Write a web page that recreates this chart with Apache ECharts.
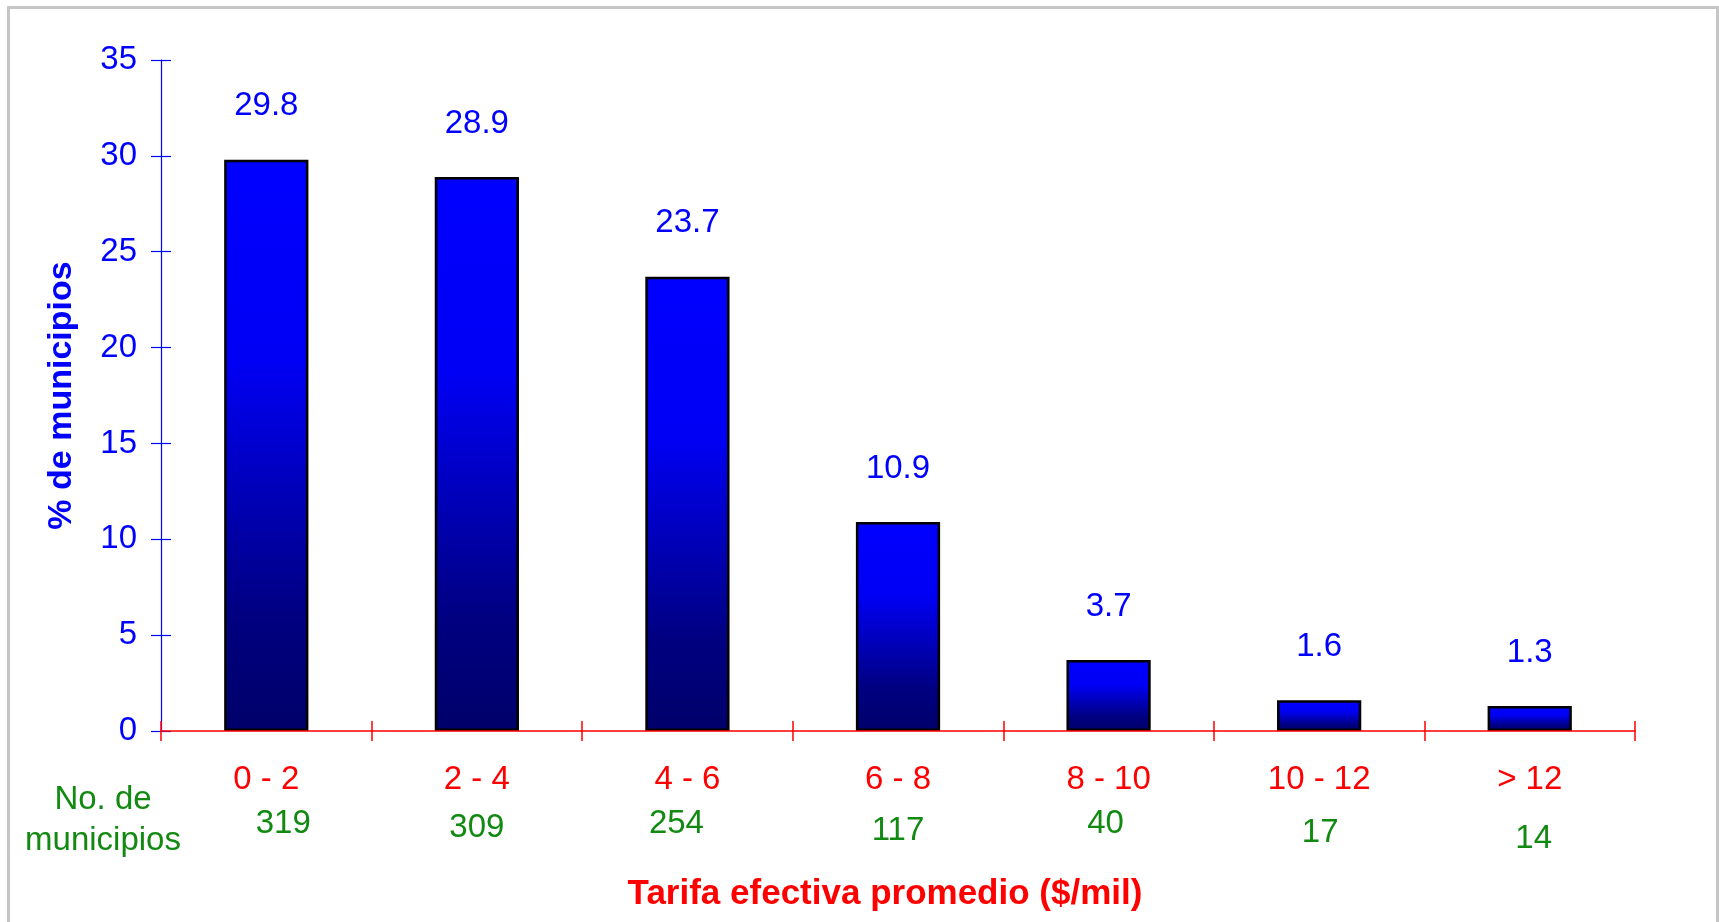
<!DOCTYPE html>
<html><head><meta charset="utf-8">
<script src="https://cdn.jsdelivr.net/npm/echarts@6/dist/echarts.min.js"></script>
<style>html,body{margin:0;padding:0;background:#fff}#c{width:1719px;height:922px}</style>
</head><body><div id="c"></div>
<script>
const categories = ['0 - 2', '2 - 4', '4 - 6', '6 - 8', '8 - 10', '10 - 12', '> 12'];
const percentValues = [29.8, 28.9, 23.7, 10.9, 3.7, 1.6, 1.3];
const municipioCounts = [319, 309, 254, 117, 40, 17, 14];
const yMin = 0, yMax = 35, yInterval = 5;
const yAxisTitle = '% de municipios';
const xAxisTitle = 'Tarifa efectiva promedio ($/mil)';
const countsTitle = 'No. de\nmunicipios';

// layout-only nudges for the count labels (pixels)
const countShift = [[17, -4], [0, 0], [-11, -4], [0, 3], [-3, -4], [1, 5], [4, 11]];

const FONT = '"Liberation Sans", Arial, sans-serif';
const FS = 33;
const chart = echarts.init(document.getElementById('c'), null, {renderer: 'canvas'});

const barGradient = new echarts.graphic.LinearGradient(0, 0, 0, 1, [
  {offset: 0, color: '#0000ff'},
  {offset: 0.35, color: '#0000f5'},
  {offset: 0.8, color: '#000080'},
  {offset: 1, color: '#00006a'}
]);

const option = {
  animation: false,
  backgroundColor: '#ffffff',
  grid: {left: 161, right: 84, top: 60, bottom: 191, containLabel: false},
  xAxis: [
    {
      type: 'category', data: categories, position: 'bottom',
      axisLine: {show: true, lineStyle: {color: '#ff0000', width: 1.5}},
      axisTick: {show: true, inside: false, length: 10, alignWithLabel: false, lineStyle: {color: '#ff0000', width: 1.5}},
      axisLabel: {color: '#ff0000', fontSize: FS, fontFamily: FONT, margin: 32, interval: 0},
      name: xAxisTitle, nameLocation: 'middle', nameGap: 146,
      nameTextStyle: {color: '#ff0000', fontSize: 35, fontWeight: 'bold', fontFamily: FONT, padding: [0, 26, 0, 0]},
      splitLine: {show: false}, z: 5
    },
    {
      type: 'category', data: categories, position: 'bottom',
      axisLine: {show: false},
      axisTick: {show: true, inside: true, length: 10, lineStyle: {color: '#ff0000', width: 1.5}},
      axisLabel: {show: false}, splitLine: {show: false}, z: 5
    }
  ],
  yAxis: [
    {
      type: 'value', min: yMin, max: yMax, interval: yInterval, position: 'left',
      axisLine: {show: true, lineStyle: {color: '#0000ff', width: 1.2}},
      axisTick: {show: true, inside: false, length: 10, lineStyle: {color: '#0000ff', width: 1.2}},
      axisLabel: {color: '#0000ff', fontSize: FS, fontFamily: FONT, margin: 24},
      splitLine: {show: false},
      name: yAxisTitle, nameLocation: 'middle', nameGap: 82, nameRotate: 90,
      nameTextStyle: {color: '#0000ff', fontSize: 34, fontWeight: 'bold', fontFamily: FONT}
    },
    {
      type: 'value', min: yMin, max: yMax, interval: yInterval, position: 'left',
      axisLine: {show: false},
      axisTick: {show: true, inside: true, length: 10, lineStyle: {color: '#0000ff', width: 1.2}},
      axisLabel: {show: false}, splitLine: {show: false}
    }
  ],
  series: [{
    type: 'bar', data: percentValues, xAxisIndex: 0, yAxisIndex: 0,
    barWidth: '40%',
    itemStyle: {color: barGradient, borderColor: '#000000', borderWidth: 2.5},
    label: {show: true, position: 'top', distance: 37, color: '#0000ff', fontSize: FS, fontFamily: FONT,
      formatter: p => p.value.toFixed(1)},
    z: 2
  }]
};
chart.setOption(option);

const graphics = [
  {type: 'rect', shape: {x: 8.5, y: 7.5, width: 1709, height: 1000},
   style: {fill: null, stroke: '#c6c6c6', lineWidth: 3}, silent: true, z: 0},
  {type: 'text', x: 103, y: 820, style: {text: countsTitle, fill: '#128a12', font: FS + 'px ' + FONT,
   textAlign: 'center', textVerticalAlign: 'middle', lineHeight: 41}}
];
municipioCounts.forEach((n, i) => {
  const px = chart.convertToPixel({xAxisIndex: 0}, categories[i]);
  graphics.push({type: 'text', x: px + countShift[i][0], y: 828 + countShift[i][1],
    style: {text: String(n), fill: '#128a12', font: FS + 'px ' + FONT, textAlign: 'center', textVerticalAlign: 'middle'}});
});
chart.setOption({graphic: graphics});
</script></body></html>
